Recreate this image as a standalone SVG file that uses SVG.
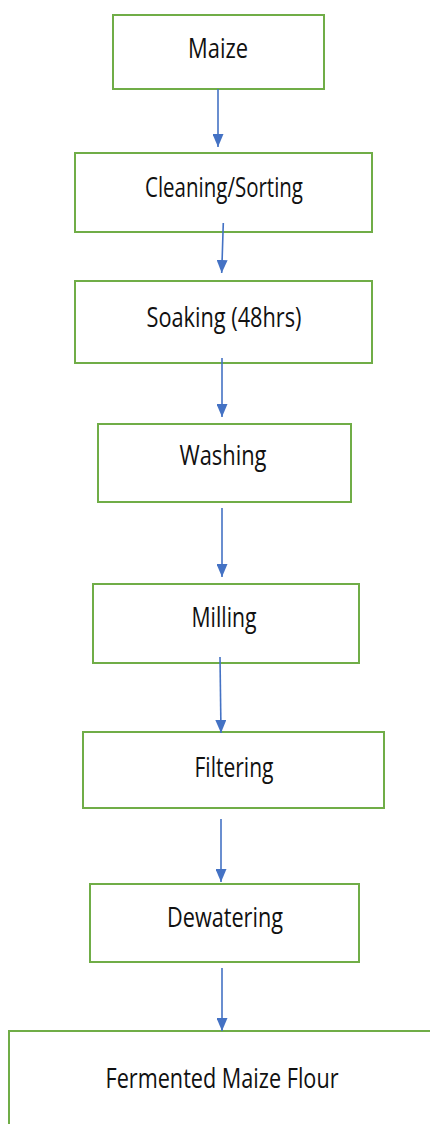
<svg xmlns="http://www.w3.org/2000/svg" width="430" height="1124" viewBox="0 0 430 1124">
<style>
.box{fill:#fff;stroke:#70AD47;stroke-width:2}
.lbl{font-family:"Open Sans","Noto Sans",sans-serif;font-size:28px;fill:#111;text-anchor:middle}
.con{stroke:#4472C4;stroke-width:1.6;fill:none;marker-end:url(#ah)}
</style>
<defs>
<marker id="ah" markerUnits="userSpaceOnUse" markerWidth="13" markerHeight="11" refX="13" refY="5.5" orient="auto">
<path d="M0,0 L13,5.5 L0,11 z" fill="#4472C4"/>
</marker>
</defs>
<rect width="430" height="1124" fill="#fff"/>
<g id="n1"><rect class="box" x="113" y="15" width="211" height="74"/><text class="lbl" x="218" y="58" textLength="60" lengthAdjust="spacingAndGlyphs">Maize</text></g>
<g id="n2"><rect class="box" x="75" y="153" width="297" height="79"/><text class="lbl" x="224" y="197" textLength="158" lengthAdjust="spacingAndGlyphs">Cleaning/Sorting</text></g>
<g id="n3"><rect class="box" x="75" y="281" width="297" height="82"/><text class="lbl" x="224" y="327" textLength="155" lengthAdjust="spacingAndGlyphs">Soaking (48hrs)</text></g>
<g id="n4"><rect class="box" x="98" y="424" width="253" height="78"/><text class="lbl" x="223" y="465" textLength="87" lengthAdjust="spacingAndGlyphs">Washing</text></g>
<g id="n5"><rect class="box" x="93" y="584" width="266" height="79"/><text class="lbl" x="224" y="627" textLength="65" lengthAdjust="spacingAndGlyphs">Milling</text></g>
<g id="n6"><rect class="box" x="83" y="732" width="301" height="76"/><text class="lbl" x="234" y="777" textLength="79" lengthAdjust="spacingAndGlyphs">Filtering</text></g>
<g id="n7"><rect class="box" x="90" y="884" width="269" height="78"/><text class="lbl" x="225" y="927" textLength="116" lengthAdjust="spacingAndGlyphs">Dewatering</text></g>
<g id="n8"><rect class="box" x="9" y="1031" width="440" height="120"/><text class="lbl" x="222" y="1088" textLength="233" lengthAdjust="spacingAndGlyphs">Fermented Maize Flour</text></g>
<g id="connectors">
<line class="con" x1="218" y1="89" x2="218" y2="147"/>
<line class="con" x1="223.3" y1="223" x2="221.7" y2="273"/>
<line class="con" x1="222" y1="358" x2="222" y2="417"/>
<line class="con" x1="222" y1="508" x2="222" y2="577"/>
<line class="con" x1="220" y1="657" x2="221" y2="733"/>
<line class="con" x1="221" y1="819" x2="221" y2="882"/>
<line class="con" x1="222" y1="968" x2="222" y2="1031"/>
</g>
</svg>
